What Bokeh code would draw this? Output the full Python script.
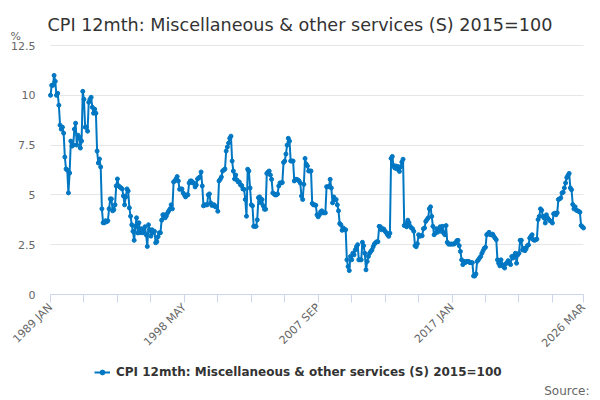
import math
from bokeh.plotting import figure
from bokeh.models import FixedTicker, Legend, LegendItem, Range1d, ColumnDataSource, Label
from bokeh.embed import file_html
from bokeh.resources import INLINE

SERIES_NAME = "CPI 12mth: Miscellaneous & other services (S) 2015=100"
TITLE = "CPI 12mth: Miscellaneous & other services (S) 2015=100"
MONTHS = ["JAN", "FEB", "MAR", "APR", "MAY", "JUN", "JUL", "AUG", "SEP", "OCT", "NOV", "DEC"]
START_YEAR = 1989

# monthly values (%), one list per year
v1989 = [10.0, 10.5, 10.5, 11.0, 10.7, 10.0, 10.1, 9.5, 8.5, 8.3, 8.4, 8.1]
v1990 = [6.9, 6.3, 6.25, 5.1, 6.1, 7.7, 7.45, 7.5, 8.3, 8.6, 7.5, 8.0]
v1991 = [7.9, 7.35, 7.7, 10.2, 9.8, 8.4, 8.4, 8.2, 9.65, 9.8, 9.9, 9.4]
v1992 = [9.1, 9.3, 9.1, 7.2, 6.6, 6.8, 6.4, 4.3, 3.6, 3.6, 3.7, 3.65]
v1993 = [3.7, 4.3, 4.8, 4.8, 4.2, 4.25, 4.5, 5.45, 5.8, 5.45, 5.4, 5.35]
v1994 = [5.3, 4.95, 4.5, 4.9, 5.3, 5.2, 4.35, 3.93, 3.5, 3.17, 2.72, 3.42]
v1995 = [3.85, 3.09, 3.6, 3.1, 3.3, 3.1, 3.17, 3.4, 3.0, 2.41, 3.5, 3.25]
v1996 = [2.93, 3.25, 3.1, 3.17, 2.6, 2.65, 2.9, 3.1, 3.1, 3.73, 4.0, 4.0]
v1997 = [3.85, 3.95, 4.1, 4.2, 4.3, 4.5, 4.3, 5.65, 5.7, 5.8, 5.92, 5.7]
v1998 = [5.28, 5.3, 5.3, 5.1, 5.0, 4.9, 5.0, 5.0, 5.6, 5.7, 5.7, 5.6]
v1999 = [5.6, 5.4, 5.5, 5.8, 5.85, 5.9, 6.15, 5.45, 4.45, 4.5, 4.5, 4.5]
v2000 = [5.0, 5.05, 4.6, 4.47, 4.5, 4.5, 4.4, 4.4, 4.18, 5.7, 5.78, 5.9]
v2001 = [6.2, 6.25, 6.3, 7.2, 7.4, 7.6, 7.84, 7.95, 6.7, 6.2, 5.8, 6.0]
v2002 = [5.75, 5.65, 5.65, 5.5, 5.47, 5.3, 5.28, 4.77, 3.93, 6.29, 6.2, 5.35]
v2003 = [4.5, 4.45, 3.42, 3.42, 3.42, 3.75, 4.86, 4.9, 4.6, 4.77, 4.45, 4.28]
v2004 = [4.28, 6.08, 6.15, 6.2, 6.0, 5.78, 5.1, 5.05, 5.0, 5.0, 5.05, 5.45]
v2005 = [5.6, 5.6, 5.62, 6.63, 6.7, 7.05, 7.5, 7.84, 7.7, 6.7, 6.7, 6.7]
v2006 = [5.7, 5.78, 5.78, 5.75, 5.7, 5.6, 4.94, 4.77, 5.53, 6.83, 6.55, 6.45]
v2007 = [6.2, 6.2, 6.2, 4.57, 4.5, 4.5, 4.48, 4.0, 3.9, 4.0, 4.15, 4.2]
v2008 = [4.1, 4.1, 4.1, 5.41, 5.41, 5.41, 5.78, 5.35, 4.6, 4.9, 4.77, 4.77]
v2009 = [4.5, 4.2, 3.56, 3.5, 3.22, 3.34, 3.25, 3.25, 1.74, 1.4, 1.2, 1.91]
v2010 = [1.74, 2.07, 1.99, 2.24, 2.4, 2.5, 1.74, 1.74, 1.74, 2.62, 2.45, 2.07]
v2011 = [1.24, 1.66, 1.91, 2.07, 2.16, 2.24, 2.4, 2.53, 2.6, 2.65, 2.65, 3.42]
v2012 = [3.4, 3.25, 3.3, 3.28, 3.17, 3.1, 3.0, 2.92, 3.08, 6.83, 6.93, 6.47]
v2013 = [6.35, 6.45, 6.3, 6.42, 6.18, 6.4, 6.65, 6.79, 3.46, 3.56, 3.4, 3.73]
v2014 = [3.6, 3.42, 3.34, 3.3, 3.17, 2.45, 2.4, 2.55, 3.0, 2.92, 2.95, 2.95]
v2015 = [3.3, 3.34, 3.67, 3.76, 3.84, 4.3, 4.4, 3.92, 3.42, 3.0, 3.08, 3.3]
v2016 = [3.13, 3.25, 3.4, 3.17, 3.42, 3.08, 3.0, 3.46, 2.62, 2.53, 2.53, 2.53]
v2017 = [2.53, 2.53, 2.55, 2.6, 2.7, 2.72, 2.45, 2.16, 1.74, 1.5, 1.66, 1.6]
v2018 = [1.66, 1.66, 1.66, 1.6, 1.6, 1.6, 0.93, 0.93, 1.03, 1.66, 1.74, 1.83]
v2019 = [1.91, 2.07, 2.2, 2.32, 2.37, 3.0, 3.05, 3.12, 3.0, 3.0, 3.03, 2.92]
v2020 = [2.83, 2.75, 1.74, 1.57, 1.44, 1.74, 1.5, 1.4, 1.33, 1.54, 1.6, 1.7]
v2021 = [1.57, 1.5, 1.91, 1.83, 1.95, 2.07, 1.57, 1.99, 2.07, 2.72, 2.72, 2.24]
v2022 = [2.32, 2.2, 2.3, 2.45, 2.49, 2.83, 2.92, 3.0, 2.75, 2.72, 2.75, 2.78]
v2023 = [3.76, 3.92, 4.3, 4.23, 3.92, 3.84, 3.59, 4.0, 3.84, 3.76, 3.7, 3.67]
v2024 = [3.59, 4.05, 4.08, 4.0, 4.1, 4.77, 4.8, 4.85, 5.1, 5.13, 5.35, 5.6]
v2025 = [5.87, 5.98, 6.08, 5.35, 5.26, 4.52, 4.3, 4.4, 4.23, 4.2, 4.18, 4.13]
v2026 = [3.46, 3.4, 3.34]

yearly = [v1989, v1990, v1991, v1992, v1993, v1994, v1995, v1996, v1997, v1998,
          v1999, v2000, v2001, v2002, v2003, v2004, v2005, v2006, v2007, v2008,
          v2009, v2010, v2011, v2012, v2013, v2014, v2015, v2016, v2017, v2018,
          v2019, v2020, v2021, v2022, v2023, v2024, v2025, v2026]
values = [v for year in yearly for v in year]
idx = list(range(len(values)))
periods = [f"{START_YEAR + i // 12} {MONTHS[i % 12]}" for i in idx]

y_ticks = [0, 2.5, 5, 7.5, 10, 12.5]
y_tick_labels = ["0", "2.5", "5", "7.5", "10", "12.5"]
x_tick_step = 28
x_label_step = 112

BLUE = "#0077c3"
FONT = "DejaVu Sans"

# layout (pixels): whole canvas is the frame, plot area inset
W, H = 600, 400
PLOT_L, PLOT_R, PLOT_T, PLOT_B = 50, 583, 45, 294
last = len(values) - 1
Y_MAX = y_ticks[-1]
px_x = (PLOT_R - PLOT_L) / last
px_y = (PLOT_B - PLOT_T) / Y_MAX
x_range = Range1d(-PLOT_L / px_x, last + (W - PLOT_R) / px_x)
y_range = Range1d(-(H - PLOT_B) / px_y, Y_MAX + PLOT_T / px_y)

x_ticks = list(range(0, last - 20, x_tick_step)) + [last]
x_overrides = {t: (periods[t] if (t % x_label_step == 0 or t == last) else "") for t in x_ticks}

src = ColumnDataSource(dict(x=idx, y=values, period=periods))

p = figure(frame_width=W, frame_height=H, title=None,
           min_border_left=0, min_border_right=0, min_border_top=0, min_border_bottom=0,
           x_range=x_range, y_range=y_range,
           output_backend="svg", toolbar_location=None, tools="")
p.outline_line_color = None
p.background_fill_color = "white"
p.border_fill_color = "white"

p.xgrid.visible = False
p.ygrid.ticker = FixedTicker(ticks=y_ticks)
p.ygrid.grid_line_color = "#e6e6e6"
p.ygrid.grid_line_width = 1
try:
    p.ygrid.cross_bounds = (0, last)
    grid_fallback = False
except AttributeError:
    grid_fallback = True

xa = p.xaxis[0]
xa.fixed_location = 0
xa.bounds = (0, last)
xa.ticker = FixedTicker(ticks=x_ticks)
xa.major_label_overrides = x_overrides
xa.axis_line_color = "#ccd6eb"
xa.major_tick_line_color = "#ccd6eb"
xa.major_tick_out = 8
xa.major_tick_in = 0
xa.minor_tick_line_color = None
xa.major_label_orientation = math.pi / 4
xa.major_label_standoff = 3
xa.major_label_text_font = FONT
xa.major_label_text_font_size = "11px"
xa.major_label_text_color = "#666666"

ya = p.yaxis[0]
ya.fixed_location = 0
ya.bounds = (0, Y_MAX)
ya.ticker = FixedTicker(ticks=y_ticks)
ya.major_label_overrides = dict(zip(y_ticks, y_tick_labels))
ya.axis_line_color = None
ya.major_tick_line_color = None
ya.minor_tick_line_color = None
ya.major_tick_out = 0
ya.major_tick_in = 0
ya.major_label_standoff = 15
ya.major_label_text_font = FONT
ya.major_label_text_font_size = "11px"
ya.major_label_text_color = "#666666"

if grid_fallback:
    p.ygrid.visible = False
    p.segment(x0=[0] * len(y_ticks), x1=[last] * len(y_ticks), y0=y_ticks, y1=y_ticks,
              line_color="#e6e6e6", line_width=1, level="underlay")

line = p.line("x", "y", source=src, line_color=BLUE, line_width=2)
pts = p.scatter("x", "y", source=src, size=4, fill_color=BLUE, line_color=BLUE)

legend = Legend(items=[LegendItem(label=SERIES_NAME, renderers=[line, pts])],
                location=(94, 21), orientation="horizontal",
                padding=0, margin=0, spacing=0,
                border_line_color=None, background_fill_alpha=0,
                glyph_width=16, glyph_height=12, label_height=12, label_standoff=6,
                label_text_font=FONT, label_text_font_style="bold",
                label_text_font_size="12px", label_text_color="#333333")
p.add_layout(legend)

p.add_layout(Label(x=47, y=H - 24, x_units="screen", y_units="screen", text=TITLE,
                   text_font=FONT, text_font_size="17.6px", text_color="#333333",
                   text_baseline="alphabetic"))
p.add_layout(Label(x=10, y=H - 35.5, x_units="screen", y_units="screen", text="%",
                   text_font=FONT, text_font_size="11px", text_color="#666666",
                   text_baseline="alphabetic"))
p.add_layout(Label(x=589, y=H - 390, x_units="screen", y_units="screen", text="Source:",
                   text_font=FONT, text_font_size="12px", text_color="#666666",
                   text_align="right", text_baseline="middle"))

open("out.html", "w").write(file_html(p, INLINE))
